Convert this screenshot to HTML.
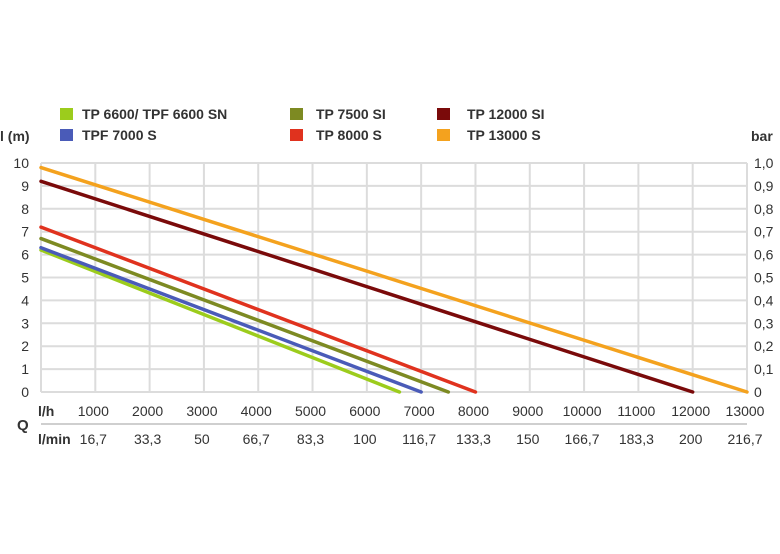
<!DOCTYPE html>
<html><head><meta charset="utf-8"><style>
html,body{margin:0;padding:0;background:#fff}
svg{display:block;font-family:"Liberation Sans",Arial,sans-serif}
</style></head><body>
<svg id="chart" width="780" height="554" viewBox="0 0 780 554" xmlns="http://www.w3.org/2000/svg">
<g id="grid"></g>
<g id="axes"></g>
<g id="series"></g>
<g id="legend"></g>
</svg>
<script>
const seriesNames = ["TP 6600/ TPF 6600 SN","TPF 7000 S","TP 7500 SI","TP 8000 S","TP 12000 SI","TP 13000 S"];
const seriesColors = ["#9ccc1c","#4a5bb8","#7d8a22","#e0321e","#7a0a0a","#f4a21e"];
const startHeads = [6.2,6.3,6.7,7.2,9.2,9.8];
const maxFlows = [6600,7000,7500,8000,12000,13000];
const xTicks = [1000,2000,3000,4000,5000,6000,7000,8000,9000,10000,11000,12000,13000];
const minLabels = ["16,7","33,3","50","66,7","83,3","100","116,7","133,3","150","166,7","183,3","200","216,7"];
const yTicks = [0,1,2,3,4,5,6,7,8,9,10];
const barLabels = ["0","0,1","0,2","0,3","0,4","0,5","0,6","0,7","0,8","0,9","1,0"];

const X0=41,X1=747,Y0=392,Y1=163;
const xs=v=>X0+(v/13000)*(X1-X0);
const ys=v=>Y0-(v/10)*(Y0-Y1);
const NS="http://www.w3.org/2000/svg";
function mk(parent,tag,attrs,text){const e=document.createElementNS(NS,tag);for(const k in attrs)e.setAttribute(k,attrs[k]);if(text!==undefined)e.textContent=text;document.getElementById(parent).appendChild(e);return e;}

// grid
for(const t of yTicks){const l=mk("grid","line",{x1:X0,x2:X1,y1:ys(t),y2:ys(t),stroke:"#dcdcdc","stroke-width":2});

}
for(const t of [0,...xTicks]){const l=mk("grid","line",{x1:xs(t),x2:xs(t),y1:Y1,y2:Y0,stroke:"#dcdcdc","stroke-width":2});

}
// y labels
yTicks.forEach((t,i)=>{
const a=mk("axes","text",{x:29,y:ys(t)+5,"text-anchor":"end","font-size":14,fill:"#333"},String(t));


const b=mk("axes","text",{x:754,y:ys(t)+5,"font-size":14,fill:"#333"},barLabels[i]);


});
xTicks.forEach((t,i)=>{
const a=mk("axes","text",{x:xs(t)-2,y:416,"text-anchor":"middle","font-size":14,fill:"#333"},String(t));


const b=mk("axes","text",{x:xs(t)-2,y:444,"text-anchor":"middle","font-size":14,fill:"#333"},minLabels[i]);


});
let e;
e=mk("axes","line",{x1:X0,x2:X1,y1:424,y2:424,stroke:"#cfcfcf","stroke-width":2});


e=mk("axes","text",{x:38,y:416,"font-size":14,"font-weight":"bold",fill:"#333"},"l/h");


e=mk("axes","text",{x:38,y:444,"font-size":14,"font-weight":"bold",fill:"#333"},"l/min");


e=mk("axes","text",{x:17,y:430,"font-size":15,"font-weight":"bold",fill:"#333"},"Q");


e=mk("axes","text",{x:0,y:141,"font-size":14,"font-weight":"bold",fill:"#333"},"l (m)");


e=mk("axes","text",{x:751,y:141,"font-size":14,"font-weight":"bold",fill:"#333"},"bar");



// series
seriesNames.forEach((n,i)=>{
const l=mk("series","line",{x1:xs(0),y1:ys(startHeads[i]),x2:xs(maxFlows[i]),y2:ys(0),stroke:seriesColors[i],"stroke-width":3.5,"stroke-linecap":"round"});


});
// legend
const lx=[60,290,437],tx=[82,316,467],ly=[114,135];
const order=[0,2,4,1,3,5];
order.forEach((si,k)=>{const col=k%3,row=Math.floor(k/3);
const r=mk("legend","rect",{x:lx[col],y:ly[row]-6,width:13,height:12,fill:seriesColors[si]});


const t=mk("legend","text",{x:tx[col],y:ly[row]+5,"font-size":14,"font-weight":"bold",fill:"#333"},seriesNames[si]);


});
</script>
</body></html>
